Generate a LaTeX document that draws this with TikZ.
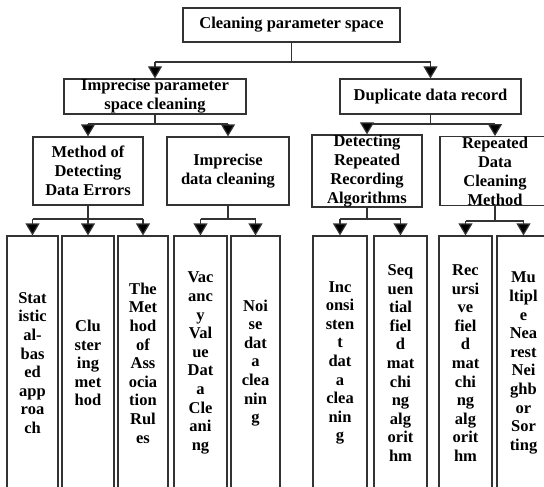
\documentclass[tikz,border=0pt]{standalone}
\usepackage{fontspec}
\setmainfont{Liberation Serif}
\usetikzlibrary{arrows.meta}
\tikzset{
  boxed/.style={draw=black!80, line width=1.2pt, inner sep=0pt, align=center,
    font=\fontsize{16.5pt}{19pt}\selectfont\bfseries},
  leaf/.style={boxed, minimum height=254pt,
    font=\fontsize{16.5pt}{18.6pt}\selectfont\bfseries},
  conn/.style={draw=black!80, line width=1.2pt},
  arr/.style={conn, -{Triangle[length=12pt,width=14pt,fill=black]}},
}
\begin{document}
\begin{tikzpicture}[x=1pt,y=-1pt]
\useasboundingbox (0,0) rectangle (544,487);
\clip (0,0) rectangle (544,487);
% level 1
\node[boxed, minimum width=217pt, minimum height=34pt] (top) at (291.5,25) {Cleaning parameter space};
% level 2
\node[boxed, minimum width=182pt, minimum height=35pt] (imp) at (155,96.5) {Imprecise parameter\\space cleaning};
\node[boxed, minimum width=181pt, minimum height=35pt] (dup) at (430.5,96.5) {Duplicate data record};
% level 3
\node[boxed, minimum width=110pt, minimum height=68pt] (met) at (88,171) {Method of\\Detecting\\Data Errors};
\node[boxed, minimum width=122pt, minimum height=68pt] (idc) at (228,171) {Imprecise\\data cleaning};
\node[boxed, minimum width=110pt, minimum height=68pt] (det) at (367,171) {Detecting\\Repeated\\Recording\\Algorithms};
\node[boxed, minimum width=110pt, minimum height=68pt] (rep) at (495,171) {Repeated\\Data\\Cleaning\\Method};
% leaves
\node[leaf, minimum width=51pt] (l1) at (32.5,363) {Stat\\istic\\al-\\bas\\ed\\app\\roa\\ch};
\node[leaf, minimum width=52pt] (l2) at (88,363) {Clu\\ster\\ing\\met\\hod};
\node[leaf, minimum width=50pt] (l3) at (143,363) {The\\Met\\hod\\of\\Ass\\ocia\\tion\\Rul\\es};
\node[leaf, minimum width=53pt] (l4) at (200.5,363) {Vac\\anc\\y\\Val\\ue\\Dat\\a\\Cle\\ani\\ng};
\node[leaf, minimum width=49pt] (l5) at (255.5,363) {Noi\\se\\dat\\a\\clea\\nin\\g};
\node[leaf, minimum width=54pt] (l6) at (340,363) {Inc\\onsi\\sten\\t\\dat\\a\\clea\\nin\\g};
\node[leaf, minimum width=53pt] (l7) at (400.5,363) {Seq\\uen\\tial\\fiel\\d\\mat\\chi\\ng\\alg\\orit\\hm};
\node[leaf, minimum width=53pt] (l8) at (465.5,363) {Rec\\ursi\\ve\\fiel\\d\\mat\\chi\\ng\\alg\\orit\\hm};
\node[leaf, minimum width=53pt] (l9) at (523.5,363) {Mu\\ltipl\\e\\Nea\\rest\\Nei\\ghb\\or\\Sor\\ting};
% buses
\coordinate (b0) at (291.5,62);
\coordinate (b1) at (155,124);
\coordinate (b2) at (430.5,124);
\coordinate (b3) at (88,219);
\coordinate (b4) at (228,219);
\coordinate (b5) at (367,219);
\coordinate (b6) at (495,221);
% level 1 -> 2
\draw[conn] (top.south) -- (b0);
\draw[conn] (imp.north |- b0) -- (dup.north |- b0);
\draw[arr] (imp.north |- b0) -- (imp.north);
\draw[arr] (dup.north |- b0) -- (dup.north);
% level 2 -> 3
\draw[conn] (imp.south) -- (b1);
\draw[conn] (met.north |- b1) -- (idc.north |- b1);
\draw[arr] (met.north |- b1) -- (met.north);
\draw[arr] (idc.north |- b1) -- (idc.north);
\draw[conn] (dup.south) -- (b2);
\draw[conn] (det.north |- b2) -- (rep.north |- b2);
\draw[arr] (det.north |- b2) -- (det.north);
\draw[arr] (rep.north |- b2) -- (rep.north);
% level 3 -> leaves
\draw[conn] (met.south) -- (b3);
\draw[conn] (l1.north |- b3) -- (l3.north |- b3);
\draw[arr] (l1.north |- b3) -- (l1.north);
\draw[arr] (l2.north |- b3) -- (l2.north);
\draw[arr] (l3.north |- b3) -- (l3.north);
\draw[conn] (idc.south) -- (b4);
\draw[conn] (l4.north |- b4) -- (l5.north |- b4);
\draw[arr] (l4.north |- b4) -- (l4.north);
\draw[arr] (l5.north |- b4) -- (l5.north);
\draw[conn] (det.south) -- (b5);
\draw[conn] (l6.north |- b5) -- (l7.north |- b5);
\draw[arr] (l6.north |- b5) -- (l6.north);
\draw[arr] (l7.north |- b5) -- (l7.north);
\draw[conn] (rep.south) -- (b6);
\draw[conn] (l8.north |- b6) -- (l9.north |- b6);
\draw[arr] (l8.north |- b6) -- (l8.north);
\draw[arr] (l9.north |- b6) -- (l9.north);
\end{tikzpicture}
\end{document}
